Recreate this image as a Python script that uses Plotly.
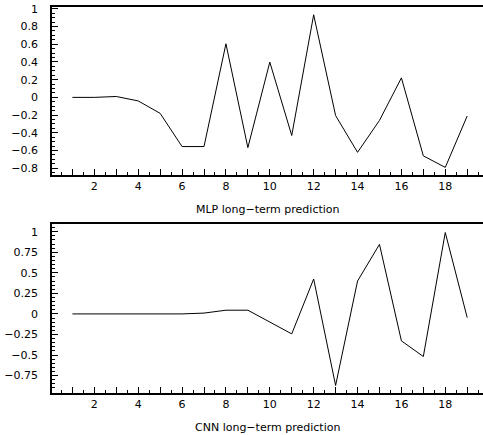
import plotly.graph_objects as go

steps = list(range(1, 20))
mlp_values = [0, 0, 0.01, -0.04, -0.18, -0.555, -0.555, 0.605, -0.567, 0.398, -0.43,
              0.932, -0.205, -0.62, -0.26, 0.22, -0.66, -0.79, -0.21]
cnn_values = [0, 0, 0, 0, 0, 0, 0.01, 0.045, 0.045, -0.10, -0.243, 0.425, -0.87,
              0.40, 0.846, -0.328, -0.518, 0.99, -0.045]

x_tickvals = list(range(1, 20))
x_ticktext = [str(v) if v % 2 == 0 else "" for v in x_tickvals]
mlp_tickvals = [1, 0.8, 0.6, 0.4, 0.2, 0, -0.2, -0.4, -0.6, -0.8]
mlp_ticktext = ["1", "0.8", "0.6", "0.4", "0.2", "0", "\u22120.2", "\u22120.4", "\u22120.6", "\u22120.8"]
cnn_tickvals = [1, 0.75, 0.5, 0.25, 0, -0.25, -0.5, -0.75]
cnn_ticktext = ["1", "0.75", "0.5", "0.25", "0", "\u22120.25", "\u22120.5", "\u22120.75"]
titles = ["MLP long\u2212term prediction", "CNN long\u2212term prediction"]

W, H = 483, 435
ml, mr, mt, mb = 52, 0, 7, 42
ph = H - mt - mb
bottom_px = H - mb

def py(pix):
    return (bottom_px - pix) / ph

font = dict(family="DejaVu Sans, sans-serif", size=11, color="black")

fig = go.Figure()
fig.add_trace(go.Scatter(x=steps, y=mlp_values, mode="lines",
                         line=dict(color="black", width=1), xaxis="x", yaxis="y", showlegend=False))
fig.add_trace(go.Scatter(x=steps, y=cnn_values, mode="lines",
                         line=dict(color="black", width=1), xaxis="x2", yaxis="y2", showlegend=False))

xcommon = dict(range=[0.07, 19.72], tickmode="array", tickvals=x_tickvals, ticktext=x_ticktext,
               ticks="inside", ticklen=6, tickwidth=1, tickcolor="black",
               showline=True, linecolor="black", linewidth=1.5, mirror=True,
               showgrid=False, zeroline=False, tickfont=font,
               minor=dict(dtick=0.5, tick0=0, ticks="inside", ticklen=3, tickcolor="black", showgrid=False))
ycommon = dict(ticks="inside", ticklen=6, tickwidth=1, tickcolor="black",
               showline=True, linecolor="black", linewidth=1.5, mirror=False,
               showgrid=False, zeroline=False, tickfont=font, tickmode="array",
               ticklabelstandoff=10,
               minor=dict(dtick=0.05, tick0=0, ticks="inside", ticklen=3, tickcolor="black", showgrid=False))

fig.update_layout(
    width=W, height=H,
    margin=dict(l=ml, r=mr, t=mt, b=mb),
    paper_bgcolor="white", plot_bgcolor="white",
    xaxis=dict(xcommon, domain=[0, 1], anchor="y"),
    yaxis=dict(ycommon, domain=[py(175), 1], anchor="x", range=[-0.876, 1.02],
               tickvals=mlp_tickvals, ticktext=mlp_ticktext),
    xaxis2=dict(xcommon, domain=[0, 1], anchor="y2"),
    yaxis2=dict(ycommon, domain=[0, py(224.3)], anchor="x2", range=[-0.962, 1.09],
                tickvals=cnn_tickvals, ticktext=cnn_ticktext),
    annotations=[
        dict(text=titles[0], xref="paper", yref="paper", x=0.5, y=py(209.5),
             showarrow=False, font=font, xanchor="center", yanchor="middle"),
        dict(text=titles[1], xref="paper", yref="paper", x=0.5, y=py(427),
             showarrow=False, font=font, xanchor="center", yanchor="middle"),
    ],
)

fig.write_html("out.html", config={"displayModeBar": False},
               post_script="document.body.style.margin='0';document.body.style.overflow='hidden';")
